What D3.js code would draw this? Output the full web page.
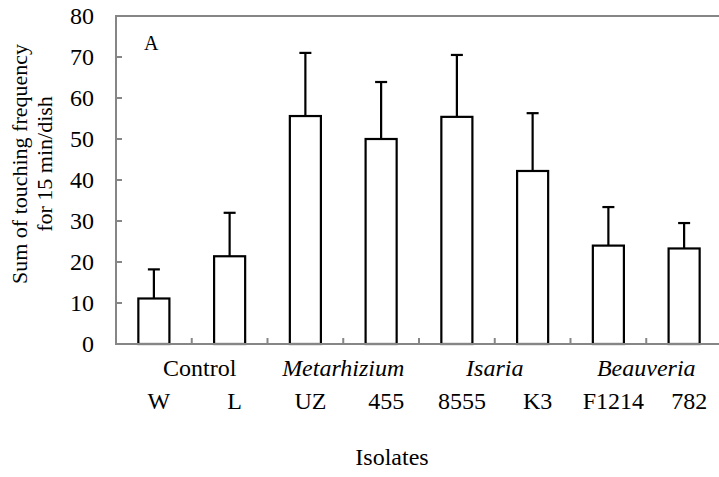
<!DOCTYPE html>
<html>
<head>
<meta charset="utf-8">
<script src="https://cdn.jsdelivr.net/npm/d3@7"></script>
<style>
  body { margin: 0; background: #fff; }
  svg { display: block; }
  text { font-family: "Liberation Serif", "Times New Roman", serif; }
</style>
</head>
<body>
<svg id="chart" width="719" height="477"></svg>
<script>
const isolates = ["W", "L", "UZ", "455", "8555", "K3", "F1214", "782"];
const genera = ["Control", "Metarhizium", "Isaria", "Beauveria"];
const generaItalic = [false, true, true, true];
const meanValues = [11.1, 21.4, 55.6, 50.0, 55.4, 42.2, 24.0, 23.3];
const errorTops = [18.2, 32.0, 71.0, 63.9, 70.5, 56.3, 33.4, 29.5];
const yTicks = [0, 10, 20, 30, 40, 50, 60, 70, 80];

const FONT = "Liberation Serif, Times New Roman, serif";
const svg = d3.select("#chart");
const pLeft = 116, pRight = 722, pTop = 16, pBottom = 344;

const x = d3.scaleBand().domain(isolates).range([pLeft, pRight])
  .paddingInner(0.59).paddingOuter(0.295);
const y = d3.scaleLinear().domain([0, 80]).range([pBottom, pTop]);
const step = x.step();
const axisColor = "#868686";

// frame
svg.append("rect").attr("x", pLeft).attr("y", pTop)
  .attr("width", pRight - pLeft).attr("height", pBottom - pTop)
  .attr("fill", "none").attr("stroke", axisColor).attr("stroke-width", 2);

// y ticks (inward)
svg.selectAll(".ytick").data(yTicks).enter().append("line")
  .attr("x1", pLeft).attr("x2", pLeft + 6)
  .attr("y1", d => y(d)).attr("y2", d => y(d))
  .attr("stroke", axisColor).attr("stroke-width", 2);
svg.selectAll(".ylab").data(yTicks).enter().append("text")
  .attr("x", 94).attr("y", d => y(d)).attr("dy", "0.35em")
  .attr("text-anchor", "end").attr("font-family", FONT).attr("font-size", 24).attr("fill", "#000")
  .text(d => d);

// x ticks at band boundaries
const xTickIdx = d3.range(1, isolates.length);
svg.selectAll(".xtick").data(xTickIdx).enter().append("line")
  .attr("x1", i => x(isolates[i]) - step * 0.295)
  .attr("x2", i => x(isolates[i]) - step * 0.295)
  .attr("y1", pBottom).attr("y2", pBottom - 6)
  .attr("stroke", axisColor).attr("stroke-width", 2);

// error bars
const cap = 12;
const eb = svg.append("g").attr("stroke", "#000").attr("stroke-width", 2.2);
isolates.forEach((k, i) => {
  const cx = x(k) + x.bandwidth() / 2;
  eb.append("line").attr("x1", cx).attr("x2", cx)
    .attr("y1", y(meanValues[i])).attr("y2", y(errorTops[i]));
  eb.append("line").attr("x1", cx - cap / 2).attr("x2", cx + cap / 2)
    .attr("y1", y(errorTops[i])).attr("y2", y(errorTops[i]));
});

// bars
svg.selectAll(".bar").data(isolates).enter().append("rect")
  .attr("x", d => x(d)).attr("width", x.bandwidth())
  .attr("y", (d, i) => y(meanValues[i]))
  .attr("height", (d, i) => y(0) - y(meanValues[i]))
  .attr("fill", "#fff").attr("stroke", "#000").attr("stroke-width", 2.2);

// redraw bottom axis line over bars
svg.append("line").attr("x1", pLeft).attr("x2", pRight)
  .attr("y1", pBottom).attr("y2", pBottom)
  .attr("stroke", axisColor).attr("stroke-width", 2);

// genus labels (centered between paired isolates)
svg.selectAll(".genus").data(genera).enter().append("text")
  .attr("x", (d, i) => x(isolates[2 * i + 1]) - step * 0.295 + (i === 0 ? 8 : 0))
  .attr("y", 376).attr("text-anchor", "middle").attr("font-family", FONT).attr("font-size", 24)
  .attr("font-style", (d, i) => generaItalic[i] ? "italic" : "normal")
  .text(d => d);

// isolate labels
svg.selectAll(".iso").data(isolates).enter().append("text")
  .attr("x", d => x(d) + x.bandwidth() / 2 + 5)
  .attr("y", 409).attr("text-anchor", "middle").attr("font-family", FONT).attr("font-size", 24)
  .text(d => d);

// x title
svg.append("text").attr("x", 392).attr("y", 465)
  .attr("text-anchor", "middle").attr("font-family", FONT).attr("font-size", 24).text("Isolates");

// y title
const yt = svg.append("text").attr("transform", "translate(27,164) rotate(-90)")
  .attr("text-anchor", "middle").attr("font-family", FONT).attr("font-size", 22);
yt.append("tspan").attr("x", 0).attr("y", 0).text("Sum of touching frequency");
yt.append("tspan").attr("x", 0).attr("y", 25).text("for 15 min/dish");

// panel label
svg.append("text").attr("x", 144).attr("y", 50).attr("font-family", FONT).attr("font-size", 20).text("A");
</script>
</body>
</html>
